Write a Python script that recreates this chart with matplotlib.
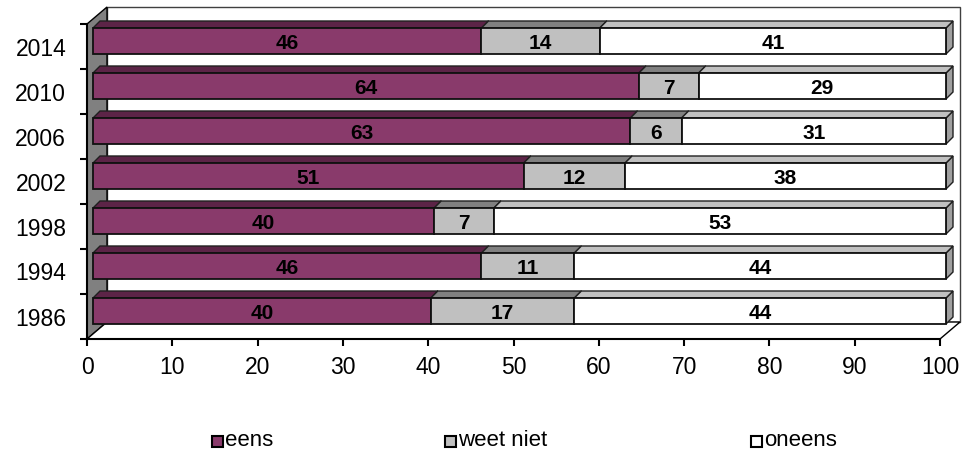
import numpy as np
import matplotlib.pyplot as plt
from matplotlib.patches import Polygon, Rectangle

plt.rcParams['font.family'] = ['Liberation Sans', 'DejaVu Sans']

years = ['1986', '1994', '1998', '2002', '2006', '2010', '2014']
eens = [40, 46, 40, 51, 63, 64, 46]
weet_niet = [17, 11, 7, 12, 6, 7, 14]
oneens = [44, 44, 53, 38, 31, 29, 41]
series_names = ['eens', 'weet niet', 'oneens']

# front / top / side colours per series
front_cols = ['#893A6B', '#C0C0C0', '#FFFFFF']
top_cols = ['#5C2447', '#808080', '#C0C0C0']
side_cols = ['#6B2B53', '#A0A0A0', '#A0A0A0']

W, H = 963, 454
fig = plt.figure(figsize=(W / 100, H / 100), dpi=100)
ax = fig.add_axes([87 / W, 1 - 339 / H, 853 / W, 315 / H])
ax.set_xlim(0, 100)
ax.set_ylim(-0.5, 6.5)

# pixels per data unit, used for the fake 3d offsets
ppx = 853 / 100
ppy = 315 / 7


def dx(p):
    return p / ppx


def dy(p):
    return p / ppy


# walls and floor
wx, wy = dx(20), dy(17)
ax.add_patch(Rectangle((wx, -0.5 + wy), 100, 7, fc='white', ec='#404040',
                       lw=1, clip_on=False, zorder=0))
ax.add_patch(Polygon([(0, -0.5), (wx, -0.5 + wy), (wx, 6.5 + wy), (0, 6.5)],
                     fc='#808080', ec='black', lw=1, clip_on=False, zorder=0.5))
ax.add_patch(Polygon([(0, -0.5), (100, -0.5), (100 + wx, -0.5 + wy), (wx, -0.5 + wy)],
                     fc='white', ec='black', lw=1, clip_on=False, zorder=0.5))

# bars
pos = np.arange(len(years))
data = np.array([eens, weet_niet, oneens], dtype=float)
totals = data.sum(axis=0)
pct = data / totals * 100

bx, by = dx(6), dy(5.5)
h = dy(26)
ddx, ddy = dx(7), dy(7)

for i, y in enumerate(pos):
    left = 0.0
    for k in range(3):
        w = pct[k, i]
        x0 = left + bx
        x1 = x0 + w
        yb = y + by - h / 2
        yt = yb + h
        ax.add_patch(Polygon([(x1, yb), (x1 + ddx, yb + ddy), (x1 + ddx, yt + ddy), (x1, yt)],
                             fc=side_cols[k], ec='#202020', lw=1, clip_on=False, zorder=2 + 2 * k))
        ax.add_patch(Polygon([(x0, yt), (x0 + ddx, yt + ddy), (x1 + ddx, yt + ddy), (x1, yt)],
                             fc=top_cols[k], ec='#202020', lw=1, clip_on=False, zorder=2 + 2 * k))
        ax.barh(y + by, w, left=x0, height=h, color=front_cols[k], edgecolor='#101010',
                lw=1.3, clip_on=False, zorder=3 + 2 * k)
        ax.text(x0 + w / 2, y + by - dy(2.5), str(int(data[k, i])), ha='center', va='center',
                fontsize=15, fontweight='bold', zorder=10)
        left += w

# axes
for s in ['top', 'right']:
    ax.spines[s].set_visible(False)
ax.spines['left'].set_linewidth(1.5)
ax.spines['bottom'].set_linewidth(1.5)
ax.spines['left'].set_zorder(1)
ax.spines['bottom'].set_zorder(1)
ax.set_xticks(np.arange(0, 101, 10))
ax.tick_params(axis='x', length=5, width=1.5, labelsize=16.5, pad=7)
ax.set_yticks(pos, years)
ax.set_yticks(np.arange(-0.5, 7, 1), minor=True)
ax.tick_params(axis='y', which='major', length=0, labelsize=16.5, pad=15)
ax.tick_params(axis='y', which='minor', length=5, width=1.5)
for t in ax.get_yticklabels():
    t.set_va('center_baseline')

# legend
leg_x = [212, 445, 751]
for k, name in enumerate(series_names):
    fig.patches.append(Rectangle((leg_x[k] / W, (H - 447) / H), 11 / W, 11 / H,
                                 transform=fig.transFigure, fc=front_cols[k],
                                 ec='black', lw=1.5))
    fig.text((leg_x[k] + 13) / W, (H - 441) / H, name, fontsize=16, va='center')

fig.savefig('out.png', dpi=100)
